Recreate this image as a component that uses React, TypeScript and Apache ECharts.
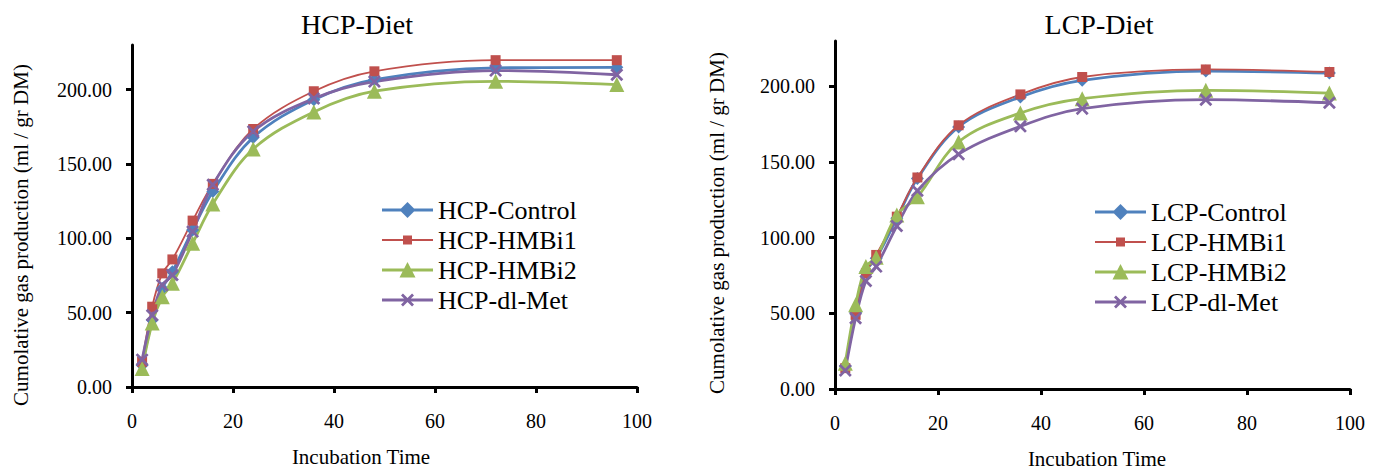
import React, { useEffect, useRef } from 'react';
import * as echarts from 'echarts';

const hours = [2, 4, 6, 8, 12, 16, 24, 36, 48, 72, 96];
const xTicks = [0, 20, 40, 60, 80, 100];
const yTicks = [0, 50, 100, 150, 200];

const hcpNames = ['HCP-Control', 'HCP-HMBi1', 'HCP-HMBi2', 'HCP-dl-Met'];
const hcpControl = [14.6, 45.0, 66.3, 77.5, 105.6, 131.4, 167.8, 193.2, 206.7, 214.6, 215.0];
const hcpHMBi1 = [16.9, 54.0, 76.4, 85.8, 111.9, 136.6, 173.5, 198.9, 212.3, 219.8, 219.8];
const hcpHMBi2 = [12.4, 43.0, 60.7, 69.7, 96.6, 123.1, 160.0, 185.0, 198.9, 205.6, 203.4];
const hcpDlMet = [18.4, 48.3, 68.5, 75.3, 104.5, 136.0, 171.9, 194.0, 205.4, 212.8, 210.0];

const lcpNames = ['LCP-Control', 'LCP-HMBi1', 'LCP-HMBi2', 'LCP-dl-Met'];
const lcpControl = [15.0, 50.6, 77.6, 86.4, 112.8, 139.1, 173.2, 193.0, 204.0, 210.1, 208.8];
const lcpHMBi1 = [13.8, 49.0, 76.5, 88.6, 113.9, 139.8, 174.3, 194.7, 206.2, 211.2, 209.5];
const lcpHMBi2 = [17.1, 55.6, 80.9, 87.0, 115.0, 127.0, 163.3, 182.4, 191.9, 197.4, 195.6];
const lcpDlMet = [12.3, 46.8, 71.4, 80.9, 107.7, 131.0, 155.2, 173.6, 185.3, 191.2, 189.2];

const FONT = 'Liberation Serif';
const COLORS = ['#4F81BD', '#C0504D', '#9BBB59', '#8064A2'];
const LINE_W = [2.8, 1.8, 2.8, 2.8];
const X_PATH = 'path://M0,1.5 L1.5,0 L5,3.5 L8.5,0 L10,1.5 L6.5,5 L10,8.5 L8.5,10 L5,6.5 L1.5,10 L0,8.5 L3.5,5 Z';
const SYMBOLS = ['diamond', 'rect', 'triangle', X_PATH];
const SIZES = [13, 10, 15, 13];

// legend icons: line + marker, in a 51 x 19 box
const CORNERS = 'M0,0 L0.001,0 L0,0.001 Z M51,19 L50.999,19 L51,18.999 Z ';
const thickLine = 'M0,8.1 L51,8.1 L51,10.9 L0,10.9 Z ';
const thinLine = 'M0,8.5 L51,8.5 L51,10.5 L0,10.5 Z ';
const LEGEND_ICONS = [
  'path://' + CORNERS + thickLine + 'M25.5,1.5 L33.5,9.5 L25.5,17.5 L17.5,9.5 Z',
  'path://' + CORNERS + thinLine + 'M21,5 L30,5 L30,14 L21,14 Z',
  'path://' + CORNERS + thickLine + 'M25.5,1.5 L33.5,17 L17.5,17 Z',
  'path://' + CORNERS + thickLine +
    'M19,4.95 L20.95,3 L25.5,7.55 L30.05,3 L32,4.95 L27.45,9.5 L32,14.05 L30.05,16 L25.5,11.45 L20.95,16 L19,14.05 L23.55,9.5 Z',
];

function makeAxisX(gridIndex: number) {
  return {
    type: 'value',
    gridIndex,
    min: 0,
    max: 100,
    interval: 20,
    splitLine: { show: false },
    axisLine: { show: true, lineStyle: { color: '#000', width: 3 } },
    axisTick: { show: true, length: 6, lineStyle: { color: '#000', width: 3 }, customValues: xTicks },
    axisLabel: { color: '#000', fontFamily: FONT, fontSize: 20, margin: 24, customValues: xTicks },
  };
}

function makeAxisY(gridIndex: number) {
  return {
    type: 'value',
    gridIndex,
    min: 0,
    max: 230,
    interval: 50,
    splitLine: { show: false },
    axisLine: { show: true, lineStyle: { color: '#000', width: 3 } },
    axisTick: { show: true, length: 6, lineStyle: { color: '#000', width: 3 }, customValues: yTicks },
    axisLabel: {
      color: '#000',
      fontFamily: FONT,
      fontSize: 20,
      margin: 20,
      customValues: yTicks,
      formatter: (v: number) => v.toFixed(2),
    },
  };
}

function makeSeries(names: string[], sets: number[][], idx: number) {
  return names.map((name, i) => ({
    name,
    type: 'line',
    xAxisIndex: idx,
    yAxisIndex: idx,
    smooth: 0.35,
    data: hours.map((h, k) => [h, sets[i][k]]),
    symbol: SYMBOLS[i],
    symbolSize: SIZES[i],
    color: COLORS[i],
    lineStyle: { color: COLORS[i], width: LINE_W[i] },
    itemStyle: { color: COLORS[i] },
  }));
}

function textEl(text: string, x: number, y: number, size: number, rotation = 0) {
  return {
    type: 'text',
    x,
    y,
    rotation,
    style: {
      text,
      fill: '#000',
      fontFamily: FONT,
      fontSize: size,
      align: 'center',
      verticalAlign: 'middle',
    },
  };
}

export default function App() {
  const ref = useRef<HTMLDivElement>(null);
  useEffect(() => {
    if (!ref.current) return;
    const chart = echarts.init(ref.current, undefined, { renderer: 'svg' });
    const legendCommon = {
      orient: 'vertical',
      itemWidth: 51,
      itemHeight: 19,
      itemGap: 4,
      padding: 0,
      symbolKeepAspect: true,
      textStyle: { fontFamily: FONT, fontSize: 26, color: '#000' },
    };
    chart.setOption({
      animation: false,
      backgroundColor: '#fff',
      grid: [
        { left: 132, top: 45, width: 505, height: 342 },
        { left: 835, top: 41, width: 515, height: 348 },
      ],
      xAxis: [makeAxisX(0), makeAxisX(1)],
      yAxis: [makeAxisY(0), makeAxisY(1)],
      legend: [
        { ...legendCommon, data: hcpNames.map((n, i) => ({ name: n, icon: LEGEND_ICONS[i] })), left: 382, top: 197 },
        { ...legendCommon, data: lcpNames.map((n, i) => ({ name: n, icon: LEGEND_ICONS[i] })), left: 1095, top: 199 },
      ],
      graphic: [
        textEl('HCP-Diet', 357, 24, 28),
        textEl('LCP-Diet', 1099, 24, 28),
        textEl('Cumolative gas production (ml / gr DM)', 21, 235, 21, Math.PI / 2),
        textEl('Cumolative gas production (ml / gr DM)', 717, 223, 21, Math.PI / 2),
        textEl('Incubation Time', 361, 457, 21),
        textEl('Incubation Time', 1097, 459, 21),
      ],
      series: [
        ...makeSeries(hcpNames, [hcpControl, hcpHMBi1, hcpHMBi2, hcpDlMet], 0),
        ...makeSeries(lcpNames, [lcpControl, lcpHMBi1, lcpHMBi2, lcpDlMet], 1),
      ],
    });
    return () => chart.dispose();
  }, []);
  return (
    <div
      ref={ref}
      style={{ position: 'absolute', left: 0, top: 0, width: 1377, height: 472 }}
    />
  );
}
